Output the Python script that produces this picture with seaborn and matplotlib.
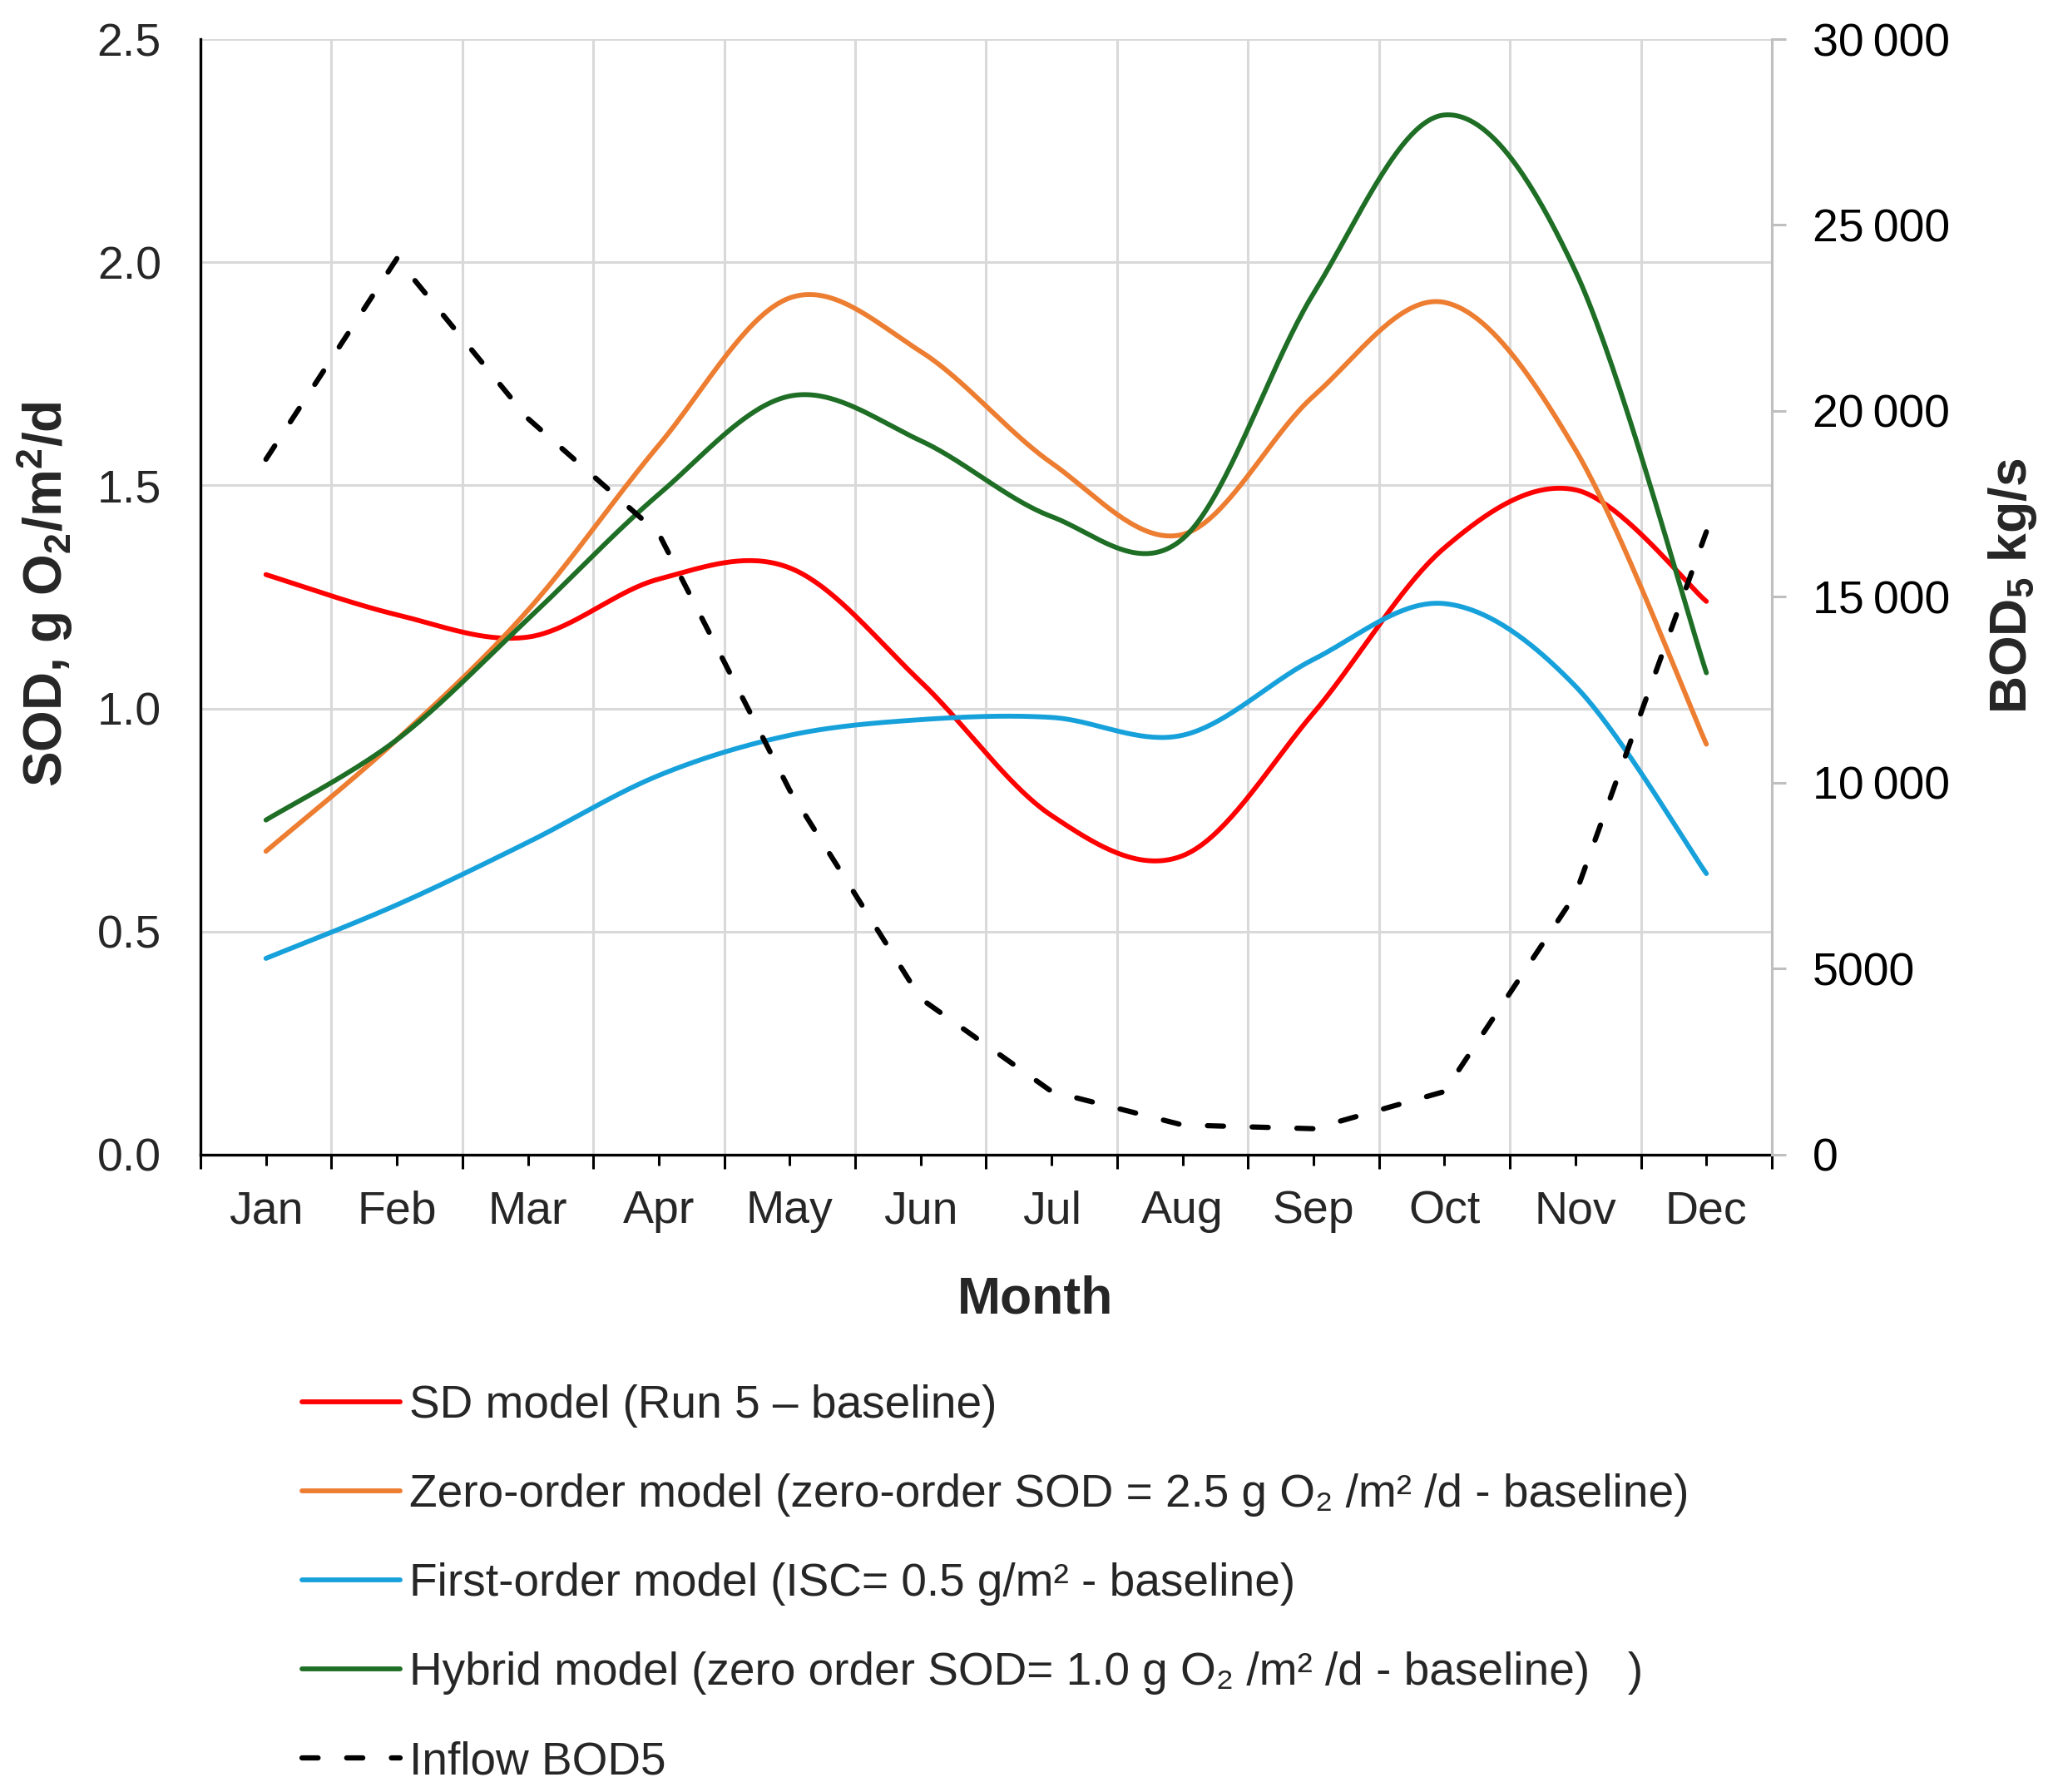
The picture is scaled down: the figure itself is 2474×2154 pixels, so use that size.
import numpy as np
import matplotlib
matplotlib.use("Agg")
import matplotlib.pyplot as plt
import seaborn as sns
from matplotlib.ticker import FixedLocator, FuncFormatter

# ---------------- data ----------------
months = ["Jan", "Feb", "Mar", "Apr", "May", "Jun",
          "Jul", "Aug", "Sep", "Oct", "Nov", "Dec"]
sd_model = [1.30, 1.21, 1.16, 1.29, 1.315, 1.06, 0.76, 0.67, 0.99, 1.36, 1.49, 1.24]
zero_order = [0.68, 0.93, 1.22, 1.59, 1.92, 1.80, 1.55, 1.39, 1.70, 1.91, 1.58, 0.92]
first_order = [0.44, 0.56, 0.70, 0.85, 0.94, 0.975, 0.98, 0.94, 1.11, 1.235, 1.05, 0.63]
hybrid = [0.75, 0.93, 1.20, 1.48, 1.70, 1.60, 1.43, 1.38, 1.93, 2.33, 1.98, 1.08]
inflow_bod5 = [18700, 24100, 19800, 16700, 9800, 4200, 1700, 800, 700, 1700, 7000, 16750]

labels = [
    "SD model (Run 5 \u2013 baseline)",
    "Zero-order model (zero-order SOD = 2.5 g O\u2082 /m\u00b2 /d - baseline)",
    "First-order model (ISC= 0.5 g/m\u00b2 - baseline)",
    "Hybrid model (zero order SOD= 1.0 g O\u2082 /m\u00b2 /d - baseline)   )",
    "Inflow BOD5",
]
colors = ["#FF0000", "#ED7D31", "#17A1DB", "#1E6E25"]

# ---------------- style ----------------
sns.set_style("white")
plt.rcParams['font.family'] = ['Liberation Sans', 'DejaVu Sans']
plt.rcParams['mathtext.fontset'] = 'custom'
plt.rcParams['mathtext.rm'] = 'Liberation Sans'
plt.rcParams['mathtext.it'] = 'Liberation Sans:italic'
plt.rcParams['mathtext.bf'] = 'Liberation Sans:bold'


def excel_smooth(values, steps=40):
    """Excel-like smoothed line: cubic Bezier segments through the points."""
    y = np.asarray(values, float)
    x = np.arange(len(y), dtype=float)
    pts = np.column_stack([x, y])
    n = len(pts)
    out = []
    for i in range(n - 1):
        pm1 = pts[max(i - 1, 0)]
        p0 = pts[i]
        p3 = pts[i + 1]
        p4 = pts[min(i + 2, n - 1)]
        c1 = p0 + (p3 - pm1) / 6.0
        c2 = p3 - (p4 - p0) / 6.0
        t = np.linspace(0, 1, steps, endpoint=(i == n - 2))[:, None]
        seg = ((1 - t) ** 3) * p0 + 3 * ((1 - t) ** 2) * t * c1 + 3 * (1 - t) * t ** 2 * c2 + t ** 3 * p3
        out.append(seg)
    out = np.vstack(out)
    return out[:, 0], out[:, 1]


fig = plt.figure(figsize=(24.74, 21.54), dpi=100)
ax = fig.add_axes([0.09741, 0.35562, 0.76354, 0.62256])

LW = 4.2
DASH = (0, (3.1, 5.5))
series = [sd_model, zero_order, first_order, hybrid]
handles = []
for vals, col in zip(series, colors):
    xs, ys = excel_smooth(vals)
    sns.lineplot(x=xs, y=ys, ax=ax, color=col, linewidth=LW, sort=False,
                 estimator=None, legend=False, solid_capstyle='round')
    handles.append(ax.get_lines()[-1])

ax.set_xlim(-0.5, 11.5)
ax.set_ylim(0, 2.5)
ax.xaxis.set_major_locator(FixedLocator(np.arange(12)))
ax.xaxis.set_minor_locator(FixedLocator(np.arange(-0.5, 12.0, 1.0)))
ax.set_xticks(np.arange(12))
ax.set_xticklabels(months)
ax.set_yticks(np.arange(0, 2.51, 0.5))
ax.yaxis.set_major_formatter(FuncFormatter(lambda v, p: f"{v:.1f}"))

ax.set_axisbelow(True)
ax.grid(False)
ax.grid(which='minor', axis='x', color='#d9d9d9', linewidth=2.2)
ax.grid(which='major', axis='y', color='#d9d9d9', linewidth=2.2)

for s in ["top", "right"]:
    ax.spines[s].set_visible(False)
for s in ["left", "bottom"]:
    ax.spines[s].set_color("black")
    ax.spines[s].set_linewidth(2.4)

ax.tick_params(axis='x', which='major', bottom=True, length=9.4, width=2.2,
               color='black', direction='out', pad=21, labelsize=40)
ax.tick_params(axis='x', which='minor', bottom=True, length=12.2, width=2.2,
               color='black', direction='out')
ax.tick_params(axis='y', which='both', left=False, length=0, pad=34, labelsize=40)

ax.set_xlabel("Month", fontsize=45, fontweight='bold', va='center')
ax.xaxis.set_label_coords(0.5315, -0.1298)
ax.set_ylabel(r"SOD, g O$_\mathbf{2}$/m$^\mathbf{2}$/d", fontsize=46,
              fontweight='bold', va='center')
ax.yaxis.set_label_coords(-0.0995, 0.5026)

# ---------------- secondary axis ----------------
ax2 = ax.twinx()
sns.lineplot(x=np.arange(len(inflow_bod5)), y=inflow_bod5, ax=ax2, color='black',
             linewidth=LW + 0.3, linestyle=DASH, dash_capstyle='round',
             sort=False, estimator=None, legend=False)
handles.append(ax2.get_lines()[-1])
ax2.set_ylim(0, 30000)
ax2.set_yticks(np.arange(0, 30001, 5000))


def fmt_thousands(v, p):
    v = int(round(v))
    if v >= 10000:
        return f"{v // 1000}\u2009{v % 1000:03d}"
    return f"{v}"


ax2.yaxis.set_major_formatter(FuncFormatter(fmt_thousands))
ax2.grid(False)
for s in ["top", "left", "bottom"]:
    ax2.spines[s].set_visible(False)
ax2.spines["right"].set_color("#bfbfbf")
ax2.spines["right"].set_linewidth(2.2)
ax2.tick_params(axis='y', which='major', right=True, length=12.2, width=2.2,
                color='#bfbfbf', labelcolor='black', direction='out', pad=23,
                labelsize=40)
ax2.set_ylabel(r"BOD$_\mathbf{5}$ kg/s", fontsize=45, fontweight='bold',
               va='center', rotation=90)
ax2.yaxis.set_label_coords(1.1535, 0.51)

# ---------------- legend ----------------
fig.legend(handles, labels, loc='center left', bbox_to_anchor=(0.1467, 0.1160),
           frameon=False, fontsize=39.6, handlelength=2.15, handletextpad=0.2,
           labelspacing=1.0, borderpad=0, borderaxespad=0)

fig.savefig("out.png", dpi=100)
